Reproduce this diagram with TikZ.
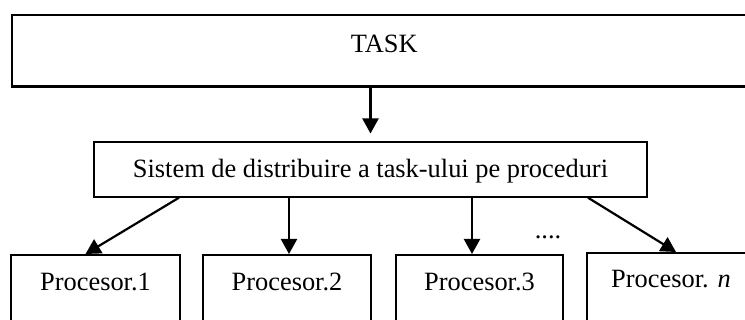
\documentclass[tikz,border=0pt]{standalone}
\usepackage{fontspec}
\setmainfont{Liberation Serif}
\usetikzlibrary{arrows.meta}
\begin{document}
\begin{tikzpicture}[x=1pt,y=-1pt,
  font=\fontsize{26.4}{31}\selectfont,
  boxstyle/.style={draw, line width=2pt, rectangle, inner sep=0pt},
  conn/.style={line width=2.2pt, -{Triangle[length=15pt,width=16pt]}}]
\useasboundingbox (0,0) rectangle (745,320);
\node[boxstyle, line width=2.4pt, anchor=north west, minimum width=745pt,
      text height=37pt, text depth=34.5pt] (task) at (10.5,14) {TASK};
\node[boxstyle, line width=1.7pt, anchor=north, minimum width=553pt,
      text height=35.5pt, text depth=19pt] (sis) at (370.5,141.5)
      {Sistem de distribuire a task-ului pe proceduri};
\node[boxstyle, anchor=north, minimum width=169pt,
      text height=36pt, text depth=80pt] (p1) at (95.5,254) {Procesor.1};
\node[boxstyle, anchor=north, minimum width=168pt,
      text height=36pt, text depth=80pt] (p2) at (287,254) {Procesor.2};
\node[boxstyle, anchor=north, minimum width=167pt,
      text height=36pt, text depth=80pt] (p3) at (479.5,254) {Procesor.3};
\node[boxstyle, anchor=north, minimum width=168pt,
      text height=35pt, text depth=80pt] (pn) at (671,252) {Procesor. \textit{n}};
\node[inner sep=0pt, anchor=base] (dots) at (548,239) {....};
\draw[conn, shorten >=8pt] (task.south -| sis.north) -- (sis.north);
\draw[conn] ([xshift=-191.5pt]sis.south) -- ([xshift=-10pt]p1.north);
\draw[conn] ([xshift=-81.5pt]sis.south) -- ([xshift=2pt]p2.north);
\draw[conn] ([xshift=101.5pt]sis.south) -- ([xshift=-7.5pt]p3.north);
\draw[conn] ([xshift=217.5pt]sis.south) -- ([xshift=5pt]pn.north);
\end{tikzpicture}
\end{document}
